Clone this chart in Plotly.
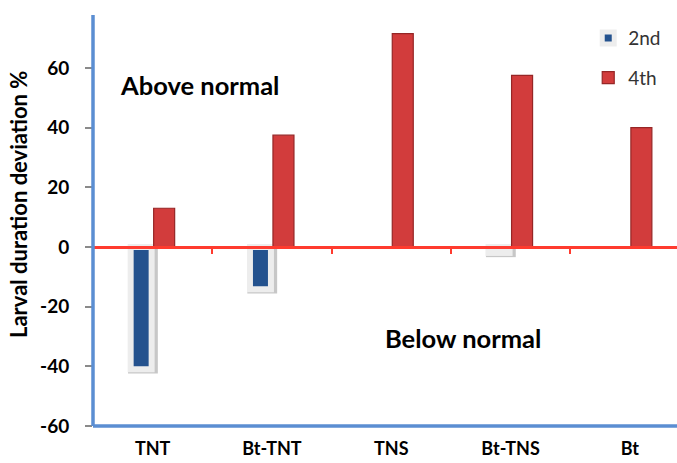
import plotly.graph_objects as go

# Larval duration deviation (%) per treatment, for 2nd and 4th instars
treatments = ["TNT", "Bt-TNT", "TNS", "Bt-TNS", "Bt"]
second_instar = [-41.0, -14.2, None, -2.0, None]
fourth_instar = [13.0, 37.5, 71.5, 57.5, 40.0]
y_ticks = [-60, -40, -20, 0, 20, 40, 60]
y_tick_text = [str(v) for v in y_ticks]

FONT = "Lato"
BAR_W = 0.176
SHIFT = 0.0964

fig = go.Figure()

# soft drop shadow under the framed 2nd-instar bars
fig.add_trace(go.Bar(
    x=treatments,
    y=[None if v is None else v - 1.4 for v in second_instar],
    width=0.25, offset=-SHIFT - BAR_W / 2 - 0.022,
    marker=dict(color="rgba(0,0,0,0.22)", line=dict(width=0)),
    showlegend=False, hoverinfo="skip",
))

fig.add_trace(go.Bar(
    name="2nd", x=treatments, y=second_instar,
    width=BAR_W, offset=-SHIFT - BAR_W / 2,
    marker=dict(color="#24528e", line=dict(color="#ededed", width=6)),
    legendgroup="a",
))

fig.add_trace(go.Bar(
    name="4th", x=treatments, y=fourth_instar,
    width=BAR_W, offset=SHIFT - BAR_W / 2,
    marker=dict(color="#d23c3c", line=dict(color="#962626", width=1.2)),
    legendgroup="b",
))

# category axis drawn through zero (red line with boundary ticks)
fig.add_trace(go.Scatter(
    x=[0], y=[0], xaxis="x2", mode="markers",
    marker=dict(opacity=0), showlegend=False, hoverinfo="skip",
))

x_range = [-0.5, 4.395]

fig.update_layout(
    width=677, height=463,
    margin=dict(l=93, r=0, t=0, b=37),
    paper_bgcolor="white", plot_bgcolor="white",
    barmode="overlay",
    font=dict(family=FONT, color="#000000"),
    xaxis=dict(
        type="category", range=x_range,
        showline=False, showgrid=False, zeroline=False, ticks="",
        tickfont=dict(family=FONT, size=18, weight="bold", color="#000000"),
        ticklabelstandoff=10,
    ),
    xaxis2=dict(
        overlaying="x", anchor="free", position=(426 - 247) / 426,
        range=x_range, tickvals=[0.5, 1.5, 2.5, 3.5],
        ticks="outside", ticklen=5, tickwidth=2, tickcolor="#ff3b2f",
        showline=True, linecolor="#ff3b2f", linewidth=3,
        showticklabels=False, showgrid=False, zeroline=False,
    ),
    yaxis=dict(
        range=[-60, 82.8], tickvals=y_ticks, ticktext=y_tick_text,
        showline=False, showgrid=False, zeroline=False,
        ticks="outside", ticklen=7, tickwidth=1.5, tickcolor="#8a8a8a",
        tickfont=dict(family=FONT, size=19, weight="bold", color="#000000"),
        ticklabelstandoff=12,
    ),
    legend=dict(
        x=0.848, y=0.955, xanchor="left", yanchor="top",
        traceorder="grouped", tracegroupgap=12,
        font=dict(family=FONT, size=19, color="#333333"),
        bgcolor="rgba(0,0,0,0)",
    ),
    shapes=[
        dict(type="line", xref="paper", yref="paper", x0=0, x1=0,
             y0=0, y1=(426 - 15) / 426, line=dict(color="#5b8ed2", width=3.5)),
        dict(type="line", xref="paper", yref="paper", x0=0, x1=1,
             y0=0, y1=0, line=dict(color="#5b8ed2", width=3.5)),
    ],
    annotations=[
        dict(text="Larval duration deviation %", xref="paper", yref="paper",
             x=(19 - 93) / 584, y=(426 - 205) / 426, textangle=-90,
             showarrow=False, xanchor="center", yanchor="middle",
             font=dict(family=FONT, size=22, weight="bold", color="#000000")),
        dict(text="Above normal", xref="paper", yref="paper",
             x=(199 - 93) / 584, y=(426 - 85) / 426, showarrow=False,
             xanchor="center", yanchor="middle",
             font=dict(family=FONT, size=25.5, weight="bold", color="#000000")),
        dict(text="Below normal", xref="paper", yref="paper",
             x=(463 - 93) / 584, y=(426 - 338) / 426, showarrow=False,
             xanchor="center", yanchor="middle",
             font=dict(family=FONT, size=25.5, weight="bold", color="#000000")),
    ],
)

fig.write_html("out.html")
